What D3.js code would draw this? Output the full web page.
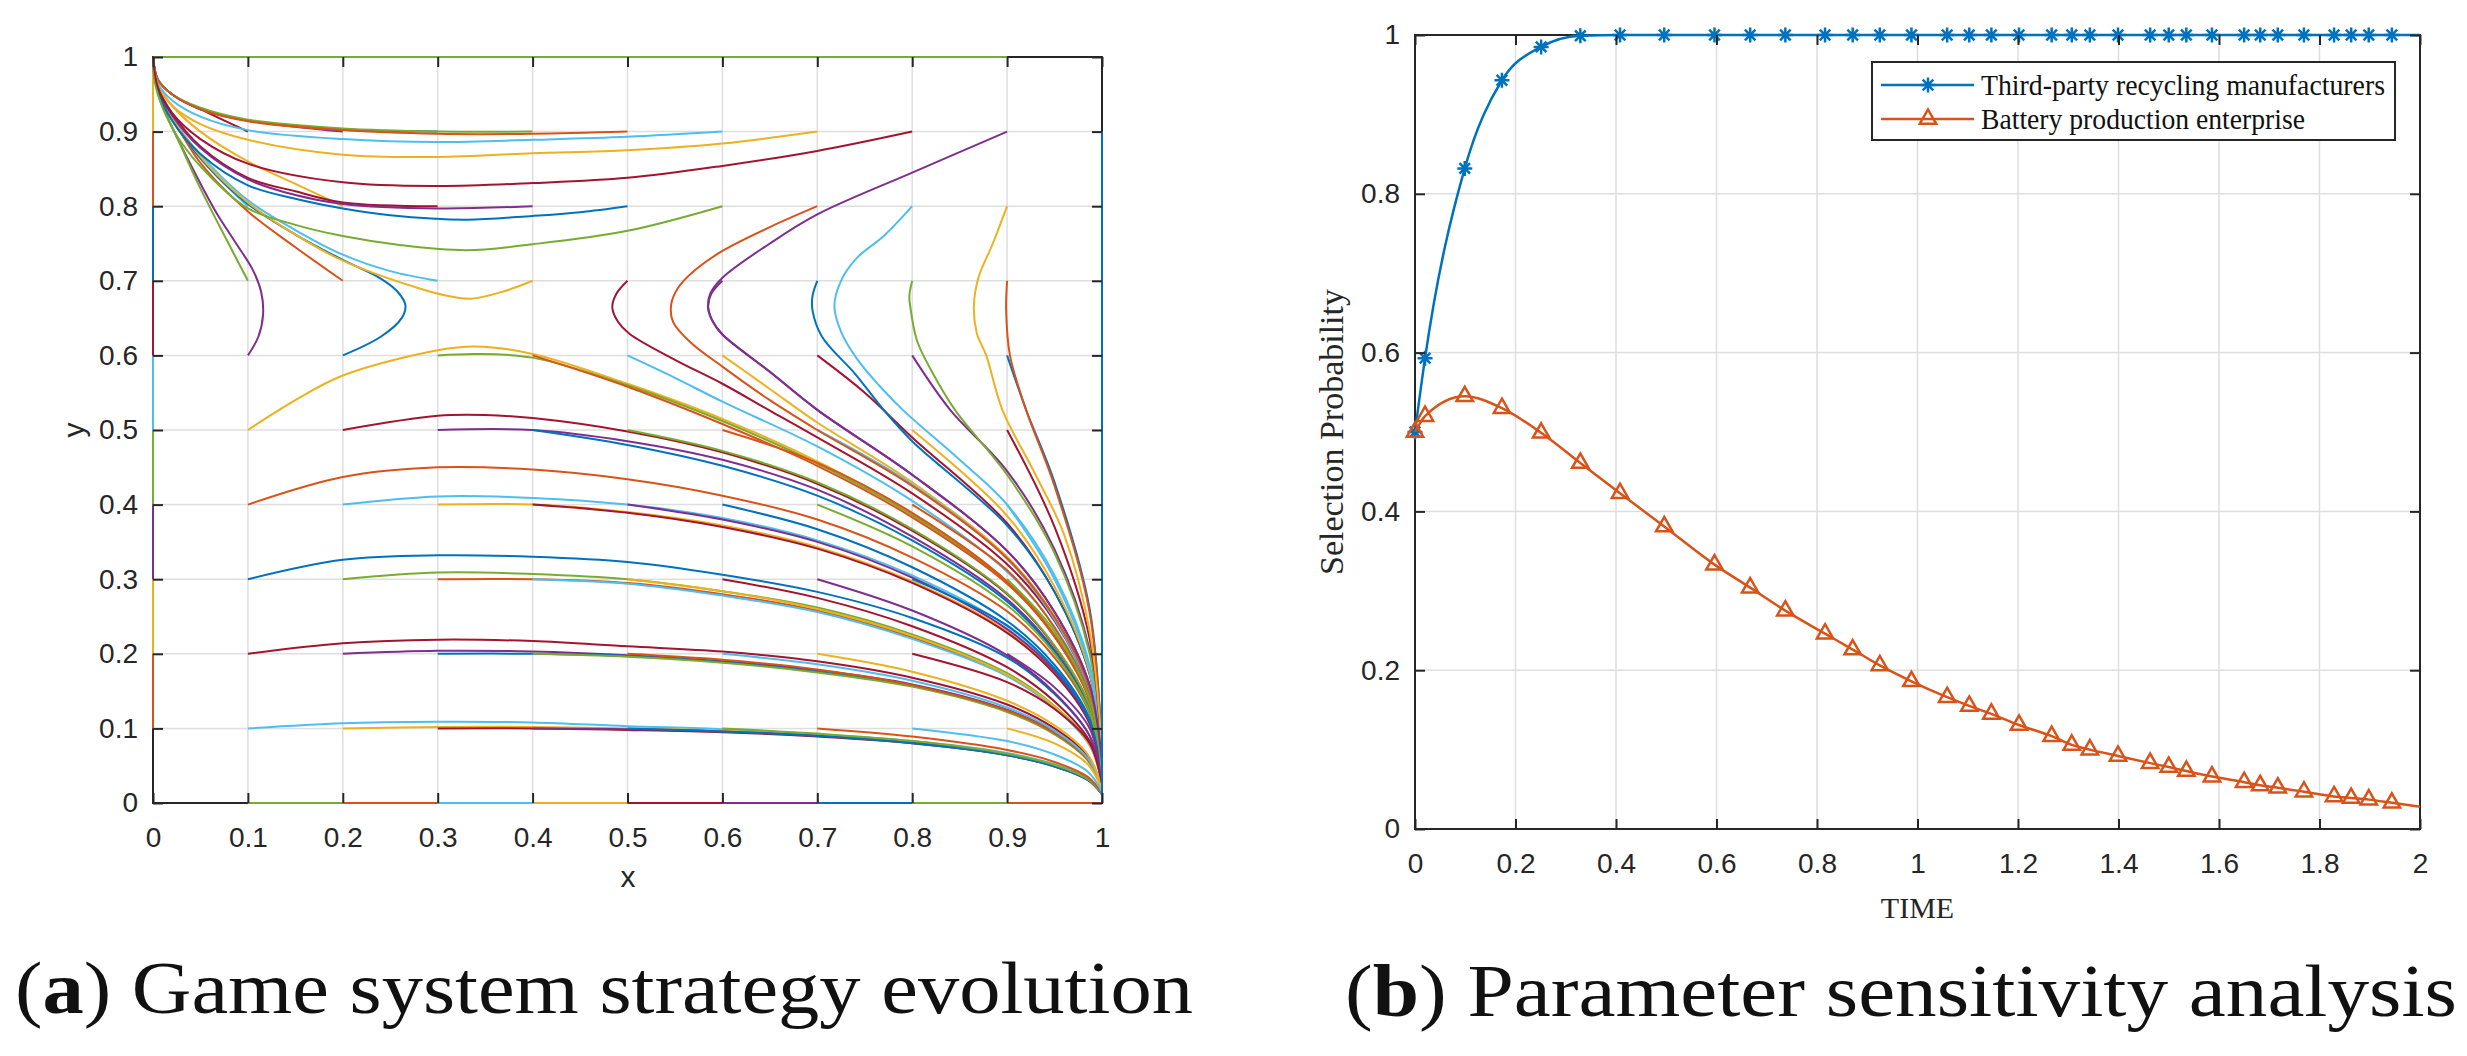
<!DOCTYPE html>
<html>
<head>
<meta charset="utf-8">
<script src="https://cdn.jsdelivr.net/npm/d3@7"></script>
<style>
  html, body { margin: 0; padding: 0; background: #fff; }
  svg { display: block; }
</style>
</head>
<body>
<svg id="chart" width="2467" height="1056"></svg>
<script>
// ---- data: (a) phase trajectories, one array per starting column x0, rows y0 = 0..1
const phaseTicks = [0, 0.1, 0.2, 0.3, 0.4, 0.5, 0.6, 0.7, 0.8, 0.9, 1];

const phaseCol00 = [
  [[0,0],[0,0]],
  [[0,0.1],[0,1]], [[0,0.2],[0,1]], [[0,0.3],[0,1]], [[0,0.4],[0,1]], [[0,0.5],[0,1]],
  [[0,0.6],[0,1]], [[0,0.7],[0,1]], [[0,0.8],[0,1]], [[0,0.9],[0,1]],
  [[0,1],[0,1]]
];
const phaseCol01 = [
  [[0.1,0],[1,0]],
  [[0.1,0.1],[0.2,0.107],[0.3,0.109],[0.4,0.108],[0.5,0.103],[0.6,0.099],[0.7,0.092],[0.8,0.083],[0.9,0.067],[0.95,0.052],[0.985,0.034],[1,0.012]],
  [[0.1,0.2],[0.2,0.214],[0.3,0.219],[0.4,0.217],[0.5,0.21],[0.6,0.203],[0.7,0.19],[0.8,0.168],[0.9,0.132],[0.95,0.1],[0.985,0.063],[1,0.02]],
  [[0.1,0.3],[0.2,0.326],[0.3,0.332],[0.4,0.33],[0.5,0.323],[0.6,0.306],[0.7,0.283],[0.8,0.248],[0.9,0.195],[0.95,0.146],[0.987,0.09],[1,0.03]],
  [[0.1,0.4],[0.2,0.437],[0.3,0.45],[0.4,0.447],[0.5,0.434],[0.6,0.412],[0.7,0.38],[0.8,0.329],[0.9,0.257],[0.95,0.195],[0.987,0.12],[1,0.04]],
  [[0.1,0.5],[0.15,0.54],[0.2,0.573],[0.3,0.607],[0.34,0.612],[0.4,0.602],[0.5,0.562],[0.6,0.515],[0.7,0.458],[0.8,0.388],[0.9,0.297],[0.95,0.226],[0.987,0.14],[1,0.05]],
  [[0.1,0.6],[0.111,0.625],[0.116,0.655],[0.114,0.685],[0.105,0.715],[0.085,0.755],[0.066,0.793],[0.038,0.86],[0.015,0.92],[0.004,0.96],[0,1]],
  [[0.1,0.7],[0.08,0.749],[0.048,0.829],[0.024,0.896],[0.008,0.94],[0.002,0.97],[0,1]],
  [[0.1,0.8],[0.06,0.85],[0.03,0.9],[0.01,0.94],[0.002,0.97],[0,1]],
  [[0.1,0.9],[0.05,0.93],[0.02,0.95],[0.005,0.97],[0,1]],
  [[0.1,1],[0,1]]
];
const phaseCol02 = [
  [[0.2,0],[1,0]],
  [[0.2,0.1],[0.3,0.102],[0.4,0.102],[0.5,0.1],[0.6,0.097],[0.7,0.09],[0.8,0.081],[0.9,0.065],[0.95,0.05],[0.985,0.032],[1,0.012]],
  [[0.2,0.2],[0.3,0.204],[0.4,0.203],[0.5,0.198],[0.6,0.19],[0.7,0.178],[0.8,0.159],[0.9,0.125],[0.95,0.095],[0.985,0.06],[1,0.02]],
  [[0.2,0.3],[0.3,0.309],[0.4,0.307],[0.5,0.3],[0.6,0.284],[0.7,0.262],[0.8,0.226],[0.9,0.174],[0.95,0.13],[0.987,0.08],[1,0.028]],
  [[0.2,0.4],[0.3,0.411],[0.4,0.409],[0.5,0.4],[0.6,0.382],[0.7,0.352],[0.8,0.305],[0.9,0.237],[0.95,0.18],[0.987,0.11],[1,0.035]],
  [[0.2,0.5],[0.3,0.519],[0.35,0.52],[0.4,0.516],[0.5,0.498],[0.6,0.47],[0.7,0.428],[0.8,0.365],[0.9,0.28],[0.95,0.21],[0.987,0.13],[1,0.045]],
  [[0.2,0.6],[0.24,0.625],[0.262,0.65],[0.266,0.667],[0.258,0.685],[0.24,0.703],[0.2,0.728],[0.15,0.762],[0.1,0.803],[0.06,0.85],[0.03,0.897],[0.01,0.94],[0.002,0.97],[0,1]],
  [[0.2,0.7],[0.15,0.745],[0.1,0.793],[0.05,0.858],[0.02,0.92],[0.005,0.96],[0,1]],
  [[0.2,0.8],[0.15,0.83],[0.1,0.86],[0.05,0.9],[0.02,0.935],[0.005,0.965],[0,1]],
  [[0.2,0.9],[0.1,0.915],[0.05,0.93],[0.02,0.95],[0.005,0.97],[0,1]],
  [[0.2,1],[0,1]]
];
const phaseCol03 = [
  [[0.3,0],[1,0]],
  [[0.3,0.1],[0.4,0.1],[0.5,0.098],[0.6,0.095],[0.7,0.089],[0.8,0.08],[0.9,0.064],[0.95,0.049],[0.985,0.031],[1,0.012]],
  [[0.3,0.2],[0.4,0.2],[0.5,0.197],[0.6,0.189],[0.7,0.176],[0.8,0.157],[0.9,0.123],[0.95,0.093],[0.985,0.058],[1,0.02]],
  [[0.3,0.3],[0.4,0.3],[0.5,0.295],[0.6,0.28],[0.7,0.258],[0.8,0.222],[0.9,0.171],[0.95,0.128],[0.987,0.078],[1,0.027]],
  [[0.3,0.4],[0.4,0.4],[0.5,0.39],[0.6,0.372],[0.7,0.343],[0.8,0.297],[0.9,0.23],[0.95,0.175],[0.987,0.107],[1,0.035]],
  [[0.3,0.5],[0.4,0.5],[0.5,0.485],[0.6,0.46],[0.7,0.42],[0.8,0.357],[0.9,0.273],[0.95,0.205],[0.987,0.125],[1,0.043]],
  [[0.3,0.6],[0.34,0.602],[0.4,0.597],[0.5,0.56],[0.6,0.512],[0.7,0.455],[0.8,0.386],[0.9,0.296],[0.95,0.225],[0.987,0.14],[1,0.05]],
  [[0.3,0.7],[0.25,0.713],[0.2,0.735],[0.15,0.768],[0.1,0.808],[0.06,0.855],[0.03,0.9],[0.01,0.94],[0.002,0.97],[0,1]],
  [[0.3,0.8],[0.2,0.805],[0.15,0.82],[0.1,0.838],[0.05,0.88],[0.02,0.925],[0.005,0.96],[0,1]],
  [[0.3,0.9],[0.2,0.903],[0.1,0.915],[0.05,0.93],[0.02,0.95],[0.005,0.97],[0,1]],
  [[0.3,1],[0,1]]
];
const phaseCol04 = [
  [[0.4,0],[1,0]],
  [[0.4,0.1],[0.5,0.099],[0.6,0.096],[0.7,0.09],[0.8,0.081],[0.9,0.065],[0.95,0.05],[0.985,0.032],[1,0.012]],
  [[0.4,0.2],[0.5,0.196],[0.6,0.188],[0.7,0.175],[0.8,0.156],[0.9,0.122],[0.95,0.092],[0.985,0.057],[1,0.02]],
  [[0.4,0.3],[0.5,0.294],[0.6,0.278],[0.7,0.256],[0.8,0.22],[0.9,0.17],[0.95,0.127],[0.987,0.077],[1,0.027]],
  [[0.4,0.4],[0.5,0.389],[0.6,0.37],[0.7,0.341],[0.8,0.295],[0.9,0.228],[0.95,0.173],[0.987,0.106],[1,0.035]],
  [[0.4,0.5],[0.5,0.48],[0.6,0.452],[0.7,0.412],[0.8,0.352],[0.9,0.27],[0.95,0.203],[0.987,0.124],[1,0.043]],
  [[0.4,0.6],[0.5,0.558],[0.6,0.508],[0.7,0.452],[0.8,0.383],[0.9,0.294],[0.95,0.223],[0.987,0.138],[1,0.05]],
  [[0.4,0.7],[0.37,0.686],[0.335,0.676],[0.31,0.68],[0.28,0.69],[0.2,0.727],[0.15,0.762],[0.1,0.805],[0.06,0.852],[0.03,0.9],[0.01,0.94],[0.002,0.97],[0,1]],
  [[0.4,0.8],[0.3,0.797],[0.2,0.803],[0.15,0.815],[0.1,0.836],[0.05,0.878],[0.02,0.922],[0.005,0.958],[0,1]],
  [[0.4,0.9],[0.3,0.9],[0.2,0.904],[0.1,0.916],[0.05,0.932],[0.02,0.95],[0.005,0.97],[0,1]],
  [[0.4,1],[0,1]]
];
const phaseCol05 = [
  [[0.5,0],[1,0]],
  [[0.5,0.1],[0.6,0.096],[0.7,0.09],[0.8,0.08],[0.9,0.064],[0.95,0.049],[0.985,0.031],[1,0.012]],
  [[0.5,0.2],[0.6,0.192],[0.7,0.179],[0.8,0.158],[0.9,0.124],[0.95,0.094],[0.985,0.058],[1,0.02]],
  [[0.5,0.3],[0.6,0.284],[0.7,0.26],[0.8,0.224],[0.9,0.172],[0.95,0.129],[0.987,0.078],[1,0.027]],
  [[0.5,0.4],[0.6,0.38],[0.7,0.35],[0.8,0.302],[0.9,0.233],[0.95,0.177],[0.987,0.108],[1,0.036]],
  [[0.5,0.5],[0.6,0.472],[0.7,0.43],[0.8,0.367],[0.9,0.281],[0.95,0.211],[0.987,0.13],[1,0.045]],
  [[0.5,0.6],[0.55,0.57],[0.6,0.538],[0.7,0.478],[0.8,0.405],[0.9,0.31],[0.95,0.236],[0.987,0.146],[1,0.052]],
  [[0.5,0.7],[0.488,0.682],[0.484,0.664],[0.49,0.645],[0.502,0.629],[0.55,0.594],[0.6,0.562],[0.65,0.526],[0.7,0.49],[0.8,0.415],[0.9,0.32],[0.95,0.244],[0.987,0.15],[1,0.053]],
  [[0.5,0.8],[0.45,0.792],[0.4,0.787],[0.33,0.782],[0.25,0.788],[0.2,0.797],[0.15,0.81],[0.1,0.828],[0.05,0.87],[0.02,0.915],[0.005,0.955],[0,1]],
  [[0.5,0.9],[0.4,0.897],[0.3,0.897],[0.2,0.902],[0.1,0.914],[0.05,0.93],[0.02,0.95],[0.005,0.97],[0,1]],
  [[0.5,1],[0,1]]
];
const phaseCol06 = [
  [[0.6,0],[1,0]],
  [[0.6,0.1],[0.7,0.093],[0.8,0.083],[0.9,0.066],[0.95,0.051],[0.985,0.032],[1,0.012]],
  [[0.6,0.2],[0.7,0.186],[0.8,0.164],[0.9,0.128],[0.95,0.097],[0.985,0.06],[1,0.02]],
  [[0.6,0.3],[0.7,0.275],[0.8,0.237],[0.9,0.182],[0.95,0.136],[0.987,0.083],[1,0.028]],
  [[0.6,0.4],[0.7,0.367],[0.8,0.316],[0.9,0.244],[0.95,0.185],[0.987,0.113],[1,0.037]],
  [[0.6,0.5],[0.7,0.456],[0.8,0.389],[0.9,0.297],[0.95,0.223],[0.987,0.137],[1,0.046]],
  [[0.6,0.6],[0.65,0.555],[0.7,0.51],[0.8,0.43],[0.9,0.33],[0.95,0.25],[0.987,0.154],[1,0.053]],
  [[0.6,0.7],[0.588,0.682],[0.585,0.664],[0.59,0.645],[0.6,0.628],[0.65,0.578],[0.7,0.527],[0.8,0.44],[0.9,0.338],[0.95,0.256],[0.987,0.158],[1,0.055]],
  [[0.6,0.8],[0.5,0.767],[0.4,0.749],[0.33,0.741],[0.26,0.748],[0.2,0.76],[0.15,0.775],[0.1,0.797],[0.06,0.84],[0.03,0.885],[0.01,0.932],[0.002,0.965],[0,1]],
  [[0.6,0.9],[0.5,0.893],[0.4,0.889],[0.3,0.886],[0.2,0.89],[0.1,0.902],[0.05,0.92],[0.02,0.942],[0.005,0.965],[0,1]],
  [[0.6,1],[0,1]]
];
const phaseCol07 = [
  [[0.7,0],[1,0]],
  [[0.7,0.1],[0.8,0.089],[0.9,0.071],[0.95,0.055],[0.985,0.035],[1,0.013]],
  [[0.7,0.2],[0.8,0.176],[0.9,0.137],[0.95,0.104],[0.985,0.065],[1,0.022]],
  [[0.7,0.3],[0.8,0.258],[0.9,0.198],[0.95,0.148],[0.987,0.09],[1,0.03]],
  [[0.7,0.4],[0.8,0.344],[0.9,0.265],[0.95,0.2],[0.987,0.122],[1,0.04]],
  [[0.7,0.5],[0.8,0.427],[0.9,0.327],[0.95,0.246],[0.987,0.15],[1,0.05]],
  [[0.7,0.6],[0.75,0.55],[0.8,0.49],[0.9,0.375],[0.95,0.283],[0.987,0.173],[1,0.058]],
  [[0.7,0.7],[0.695,0.68],[0.695,0.66],[0.705,0.625],[0.74,0.575],[0.77,0.527],[0.8,0.485],[0.9,0.372],[0.95,0.283],[0.987,0.173],[1,0.058]],
  [[0.7,0.8],[0.65,0.772],[0.6,0.74],[0.57,0.713],[0.553,0.69],[0.546,0.668],[0.548,0.645],[0.566,0.618],[0.6,0.585],[0.65,0.54],[0.7,0.5],[0.8,0.425],[0.9,0.328],[0.95,0.249],[0.987,0.153],[1,0.054]],
  [[0.7,0.9],[0.6,0.884],[0.5,0.875],[0.4,0.871],[0.3,0.866],[0.2,0.869],[0.1,0.889],[0.05,0.91],[0.02,0.935],[0.005,0.962],[0,1]],
  [[0.7,1],[0,1]]
];
const phaseCol08 = [
  [[0.8,0],[1,0]],
  [[0.8,0.1],[0.9,0.083],[0.95,0.065],[0.985,0.042],[1,0.015]],
  [[0.8,0.2],[0.9,0.162],[0.95,0.126],[0.987,0.08],[1,0.025]],
  [[0.8,0.3],[0.9,0.238],[0.95,0.18],[0.987,0.11],[1,0.035]],
  [[0.8,0.4],[0.9,0.312],[0.95,0.235],[0.987,0.143],[1,0.045]],
  [[0.8,0.5],[0.9,0.385],[0.95,0.29],[0.987,0.175],[1,0.055]],
  [[0.8,0.6],[0.84,0.527],[0.9,0.445],[0.95,0.34],[0.987,0.205],[1,0.065]],
  [[0.8,0.7],[0.797,0.68],[0.798,0.665],[0.805,0.62],[0.82,0.58],[0.845,0.527],[0.9,0.44],[0.95,0.335],[0.987,0.2],[1,0.065]],
  [[0.8,0.8],[0.77,0.76],[0.742,0.731],[0.725,0.7],[0.718,0.666],[0.725,0.632],[0.742,0.595],[0.765,0.56],[0.79,0.527],[0.85,0.46],[0.9,0.4],[0.95,0.305],[0.987,0.185],[1,0.06]],
  [[0.8,0.9],[0.7,0.874],[0.6,0.854],[0.5,0.838],[0.4,0.831],[0.3,0.827],[0.2,0.832],[0.1,0.857],[0.05,0.89],[0.02,0.925],[0.005,0.96],[0,1]],
  [[0.8,1],[0,1]]
];
const phaseCol09 = [
  [[0.9,0],[1,0]],
  [[0.9,0.1],[0.95,0.08],[0.985,0.052],[1,0.018]],
  [[0.9,0.2],[0.95,0.155],[0.987,0.1],[1,0.03]],
  [[0.9,0.3],[0.95,0.23],[0.987,0.14],[1,0.04]],
  [[0.9,0.4],[0.95,0.3],[0.987,0.18],[1,0.05]],
  [[0.9,0.5],[0.95,0.37],[0.987,0.22],[1,0.06]],
  [[0.9,0.6],[0.92,0.527],[0.95,0.43],[0.987,0.26],[1,0.07]],
  [[0.9,0.7],[0.899,0.66],[0.903,0.6],[0.92,0.527],[0.95,0.425],[0.987,0.255],[1,0.07]],
  [[0.9,0.8],[0.885,0.75],[0.87,0.705],[0.865,0.667],[0.868,0.63],[0.878,0.6],[0.895,0.527],[0.93,0.44],[0.96,0.36],[0.987,0.23],[1,0.07]],
  [[0.9,0.9],[0.8,0.845],[0.7,0.789],[0.65,0.75],[0.6,0.704],[0.587,0.682],[0.585,0.664],[0.59,0.645],[0.6,0.628],[0.65,0.578],[0.7,0.527],[0.8,0.44],[0.9,0.338],[0.95,0.256],[0.987,0.158],[1,0.055]],
  [[0.9,1],[0,1]]
];
const phaseCol10 = [
  [[1,0],[1,0]],
  [[1,0.1],[1,0]], [[1,0.2],[1,0]], [[1,0.3],[1,0]], [[1,0.4],[1,0]], [[1,0.5],[1,0]],
  [[1,0.6],[1,0]], [[1,0.7],[1,0]], [[1,0.8],[1,0]], [[1,0.9],[1,0]],
  [[1,1],[1,1]]
];

// ---- data: (b) sensitivity curves
const timeTicks = [0, 0.2, 0.4, 0.6, 0.8, 1, 1.2, 1.4, 1.6, 1.8, 2];
const probTicks = [0, 0.2, 0.4, 0.6, 0.8, 1];
const timeSteps = [0, 0.02, 0.099, 0.173, 0.251, 0.329, 0.408, 0.496, 0.596, 0.667,
  0.737, 0.816, 0.871, 0.925, 0.988, 1.059, 1.103, 1.147, 1.202, 1.267,
  1.307, 1.343, 1.399, 1.463, 1.5, 1.535, 1.586, 1.65, 1.682, 1.717,
  1.769, 1.829, 1.863, 1.898, 1.944, 2];
const recyclerProb = [0.5, 0.593, 0.832, 0.943, 0.985, 0.999, 1, 1, 1, 1,
  1, 1, 1, 1, 1, 1, 1, 1, 1, 1,
  1, 1, 1, 1, 1, 1, 1, 1, 1, 1,
  1, 1, 1, 1, 1, 1];
const batteryProb = [0.5, 0.52, 0.545, 0.53, 0.499, 0.461, 0.423, 0.381, 0.333, 0.304,
  0.275, 0.246, 0.226, 0.206, 0.186, 0.166, 0.155, 0.145, 0.131, 0.117,
  0.106, 0.1, 0.092, 0.083, 0.078, 0.073, 0.066, 0.059, 0.055, 0.052,
  0.047, 0.041, 0.039, 0.037, 0.033, 0.028];
const seriesLabels = ["Third-party recycling manufacturers", "Battery production enterprise"];

// ---- drawing
const svg = d3.select("#chart");
const matlabColors = ["#0072BD", "#D95319", "#EDB120", "#7E2F8E", "#77AC30", "#4DBEEE", "#A2142F"];
const axisColor = "#262626";
const gridColor = "#dedede";
const sansFont = "'Liberation Sans', Arial, sans-serif";
const serifFont = "'Liberation Serif', 'Times New Roman', serif";

function drawFrame(g, x, y, xTicks, yTicks) {
  const [x0, x1] = x.range();
  const [y0, y1] = y.range();
  // grid
  g.append("g").selectAll("line")
    .data(xTicks.slice(1, -1))
    .join("line")
      .attr("x1", d => x(d)).attr("x2", d => x(d))
      .attr("y1", y0).attr("y2", y1)
      .attr("stroke", gridColor).attr("stroke-width", 1.5);
  g.append("g").selectAll("line")
    .data(yTicks.slice(1, -1))
    .join("line")
      .attr("y1", d => y(d)).attr("y2", d => y(d))
      .attr("x1", x0).attr("x2", x1)
      .attr("stroke", gridColor).attr("stroke-width", 1.5);
  // box
  g.append("rect")
    .attr("x", x0).attr("y", y1)
    .attr("width", x1 - x0).attr("height", y0 - y1)
    .attr("fill", "none")
    .attr("stroke", axisColor)
    .attr("stroke-width", 2);
}

function drawTicks(g, x, y, xTicks, yTicks, fmt) {
  const [x0, x1] = x.range();
  const [y0, y1] = y.range();
  const styleAxis = sel => {
    sel.select(".domain").remove();
    sel.selectAll(".tick line").attr("stroke", axisColor).attr("stroke-width", 2);
    sel.selectAll(".tick text")
      .attr("fill", axisColor)
      .attr("font-family", sansFont)
      .attr("font-size", 28);
  };
  g.append("g")
    .attr("transform", `translate(0,${y0})`)
    .call(d3.axisBottom(x).tickValues(xTicks).tickFormat(fmt).tickSizeInner(-10).tickSizeOuter(0).tickPadding(24))
    .call(styleAxis);
  g.append("g")
    .attr("transform", `translate(0,${y1})`)
    .call(d3.axisTop(x).tickValues(xTicks).tickFormat("").tickSizeInner(-10).tickSizeOuter(0))
    .call(styleAxis);
  g.append("g")
    .attr("transform", `translate(${x0},0)`)
    .call(d3.axisLeft(y).tickValues(yTicks).tickFormat(fmt).tickSizeInner(-10).tickSizeOuter(0).tickPadding(15))
    .call(styleAxis);
  g.append("g")
    .attr("transform", `translate(${x1},0)`)
    .call(d3.axisRight(y).tickValues(yTicks).tickFormat("").tickSizeInner(-10).tickSizeOuter(0))
    .call(styleAxis);
}

const fmt = d3.format("~g");

// ===== (a) phase portrait =====
const xA = d3.scaleLinear().domain([0, 1]).range([153, 1102]);
const yA = d3.scaleLinear().domain([0, 1]).range([803, 57]);
const gA = svg.append("g");
drawFrame(gA, xA, yA, phaseTicks, phaseTicks);

const trajectories = [
  ...phaseCol00, ...phaseCol01, ...phaseCol02, ...phaseCol03, ...phaseCol04, ...phaseCol05,
  ...phaseCol06, ...phaseCol07, ...phaseCol08, ...phaseCol09, ...phaseCol10
];
// colours cycle in plotting order, like MATLAB's default colour order
const trajColor = d3.scaleOrdinal()
  .domain(trajectories.map((d, i) => i))
  .range(matlabColors);

const phaseLine = d3.line()
  .x(d => xA(d[0]))
  .y(d => yA(d[1]))
  .curve(d3.curveCatmullRom.alpha(0.5));

gA.append("g").selectAll("path")
  .data(trajectories)
  .join("path")
    .attr("d", phaseLine)
    .attr("fill", "none")
    .attr("stroke", (d, i) => trajColor(i))
    .attr("stroke-width", 2);

drawTicks(gA, xA, yA, phaseTicks, phaseTicks, fmt);

gA.append("text")
  .attr("x", 628).attr("y", 887)
  .attr("text-anchor", "middle")
  .attr("font-family", sansFont).attr("font-size", 30)
  .attr("fill", axisColor)
  .text("x");
gA.append("text")
  .attr("transform", "translate(84,430) rotate(-90)")
  .attr("text-anchor", "middle")
  .attr("font-family", sansFont).attr("font-size", 30)
  .attr("fill", axisColor)
  .text("y");

// ===== (b) sensitivity =====
const xB = d3.scaleLinear().domain([0, 2]).range([1415, 2420]);
const yB = d3.scaleLinear().domain([0, 1]).range([829, 35]);
const gB = svg.append("g");
drawFrame(gB, xB, yB, timeTicks, probTicks);

const series = [
  { key: "recycler", values: recyclerProb, color: matlabColors[0], marker: "star", textLen: 404 },
  { key: "battery", values: batteryProb, color: matlabColors[1], marker: "tri", textLen: 324 }
];
const starPath = "M-7.5,0H7.5M0,-7.5V7.5M-5.3,-5.3L5.3,5.3M-5.3,5.3L5.3,-5.3";
const triPath = "M0,-9.5L8.2,4.8L-8.2,4.8Z";

const probLine = d3.line()
  .x(d => xB(d.t))
  .y(d => yB(d.v))
  .curve(d3.curveMonotoneX);

series.forEach(s => {
  const pts = timeSteps.map((t, i) => ({ t, v: s.values[i] }));
  const sg = gB.append("g");
  sg.append("path")
    .datum(pts)
    .attr("d", probLine)
    .attr("fill", "none")
    .attr("stroke", s.color)
    .attr("stroke-width", 2.5);
  // solver output points get a marker, the final t = 2 point does not
  sg.selectAll("path.marker")
    .data(pts.slice(0, -1))
    .join("path")
      .attr("class", "marker")
      .attr("transform", d => `translate(${xB(d.t)},${yB(d.v)})`)
      .attr("d", s.marker === "star" ? starPath : triPath)
      .attr("fill", "none")
      .attr("stroke", s.color)
      .attr("stroke-width", 2.5);
});

drawTicks(gB, xB, yB, timeTicks, probTicks, fmt);

gB.append("text")
  .attr("x", (xB(0) + xB(2)) / 2).attr("y", 918)
  .attr("text-anchor", "middle")
  .attr("font-family", serifFont).attr("font-size", 30)
  .attr("fill", axisColor)
  .text("TIME");
gB.append("text")
  .attr("transform", "translate(1343,432) rotate(-90)")
  .attr("text-anchor", "middle")
  .attr("font-family", serifFont).attr("font-size", 33)
  .attr("fill", axisColor)
  .attr("textLength", 286).attr("lengthAdjust", "spacingAndGlyphs")
  .text("Selection Probability");

// legend
const legend = gB.append("g").attr("transform", "translate(1872,62)");
legend.append("rect")
  .attr("width", 523).attr("height", 78)
  .attr("fill", "#fff")
  .attr("stroke", axisColor).attr("stroke-width", 2);
const legRows = legend.selectAll("g.row")
  .data(series)
  .join("g")
    .attr("class", "row")
    .attr("transform", (d, i) => `translate(0,${23 + i * 34})`);
legRows.append("line")
  .attr("x1", 9).attr("x2", 102)
  .attr("stroke", d => d.color).attr("stroke-width", 2.5);
legRows.append("path")
  .attr("transform", "translate(56,0)")
  .attr("d", d => d.marker === "star" ? starPath : triPath)
  .attr("fill", "none")
  .attr("stroke", d => d.color).attr("stroke-width", 2.5);
legRows.append("text")
  .attr("x", 109).attr("y", 10)
  .attr("font-family", serifFont).attr("font-size", 29)
  .attr("fill", "#111")
  .attr("textLength", d => d.textLen).attr("lengthAdjust", "spacingAndGlyphs")
  .text((d, i) => seriesLabels[i]);

// ===== captions =====
function caption(x, y, letter, rest, len) {
  const t = svg.append("text")
    .attr("x", x).attr("y", y)
    .attr("font-family", serifFont).attr("font-size", 74)
    .attr("fill", "#111")
    .attr("textLength", len).attr("lengthAdjust", "spacingAndGlyphs");
  t.append("tspan").text("(");
  t.append("tspan").attr("font-weight", "bold").text(letter);
  t.append("tspan").text(") " + rest);
}
caption(15, 1013, "a", "Game system strategy evolution", 1178);
caption(1345, 1016, "b", "Parameter sensitivity analysis", 1112);
</script>
</body>
</html>
